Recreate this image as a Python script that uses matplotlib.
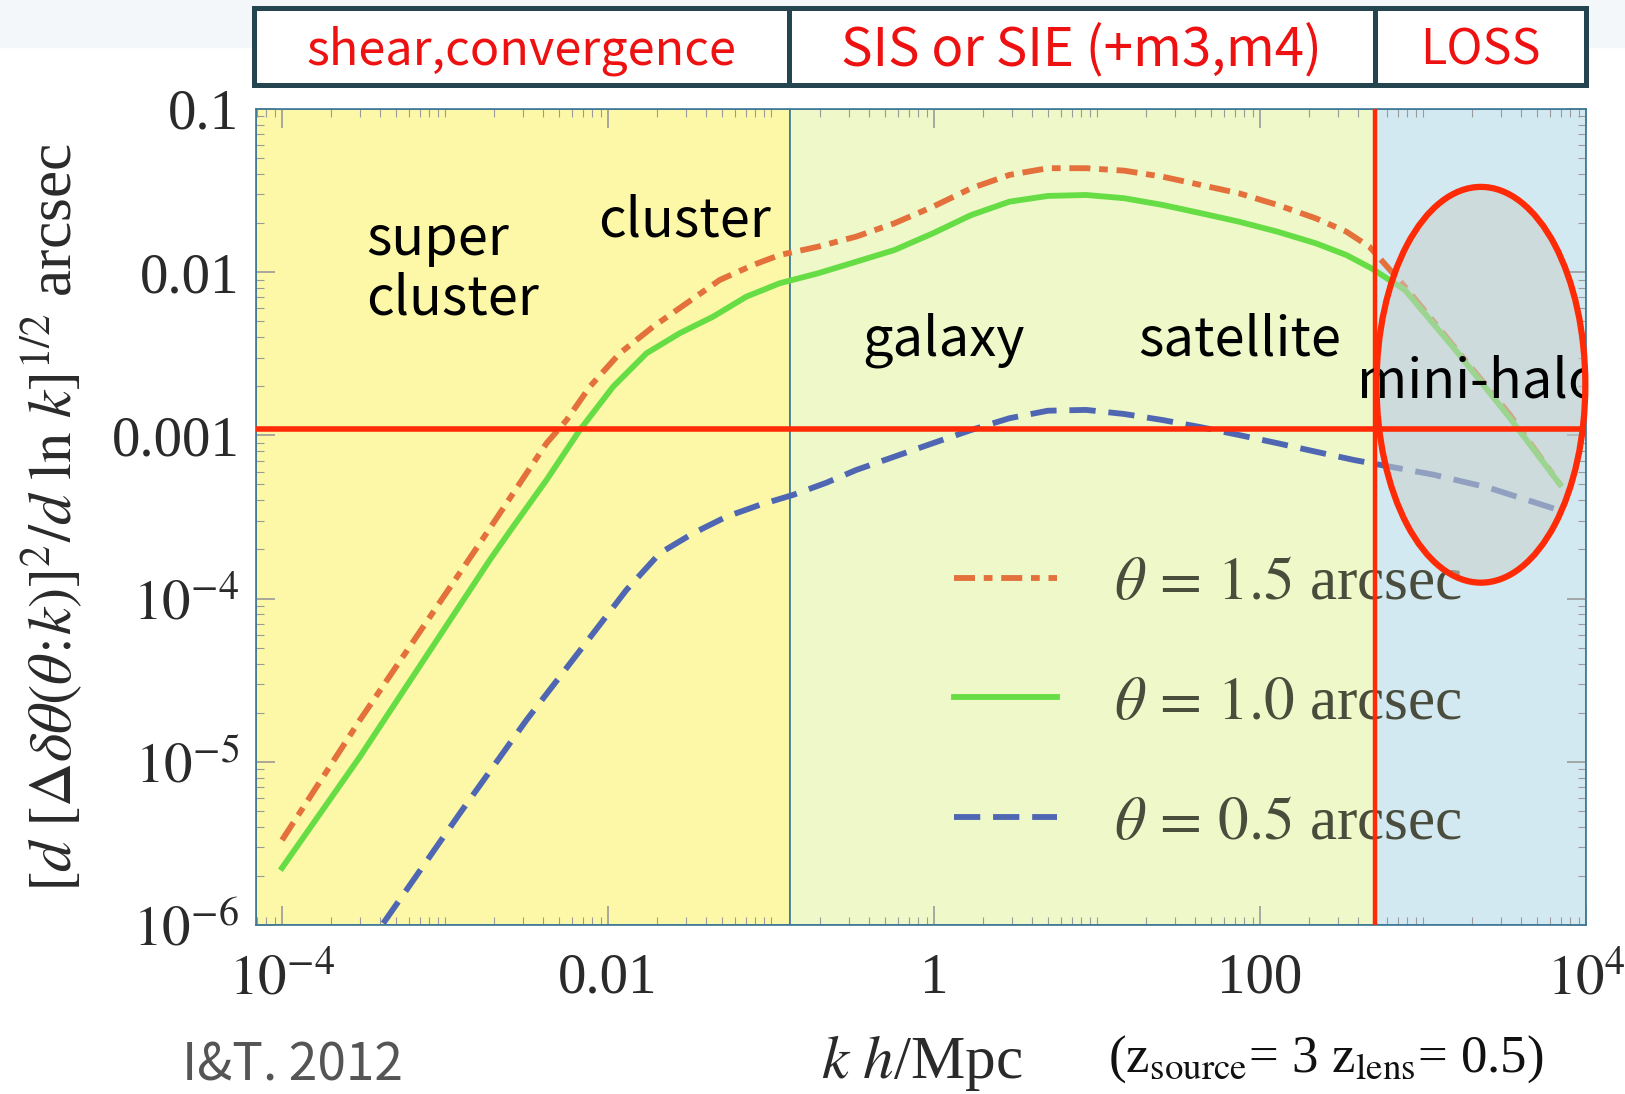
import numpy as np
import matplotlib
matplotlib.use("Agg")
import matplotlib.pyplot as plt
from matplotlib.patches import Ellipse, Rectangle
from matplotlib.ticker import FixedLocator, FixedFormatter, LogLocator, NullFormatter

plt.rcParams["font.family"] = ["Liberation Serif", "DejaVu Serif"]
plt.rcParams["mathtext.fontset"] = "stix"

# log10 k [h/Mpc] and log10 of the deflection signal, one pair per source size
logk_15 = [-4.00, -3.522, -2.786, -2.582, -2.377, -2.254, -2.112, -1.928, -1.723, -1.519,
           -1.315, -1.110, -0.947, -0.712, -0.477, -0.242, -0.007, 0.228, 0.463, 0.698,
           0.933, 1.167, 1.402, 1.638, 1.872, 2.107, 2.342, 2.530, 2.671, 2.89, 3.21, 3.53, 3.84]
logv_15 = [-5.48, -4.744, -3.661, -3.355, -3.048, -2.906, -2.702, -2.497, -2.334, -2.191,
           -2.048, -1.956, -1.895, -1.844, -1.782, -1.700, -1.599, -1.486, -1.404, -1.363,
           -1.363, -1.378, -1.415, -1.466, -1.517, -1.588, -1.670, -1.752, -1.844, -2.09,
           -2.48, -2.87, -3.30]

logk_10 = [-4.00, -3.522, -2.725, -2.582, -2.377, -2.173, -1.969, -1.764, -1.560, -1.356,
           -1.151, -0.947, -0.712, -0.477, -0.242, -0.007, 0.228, 0.463, 0.698, 0.933,
           1.167, 1.402, 1.638, 1.872, 2.107, 2.342, 2.530, 2.683, 2.89, 3.21, 3.53, 3.84]
logv_10 = [-5.65, -4.969, -3.763, -3.559, -3.273, -2.967, -2.702, -2.497, -2.374, -2.273,
           -2.150, -2.068, -2.007, -1.936, -1.864, -1.762, -1.650, -1.568, -1.533, -1.527,
           -1.547, -1.588, -1.639, -1.691, -1.752, -1.823, -1.895, -1.976, -2.11, -2.49,
           -2.89, -3.30]

logk_05 = [-3.379, -2.909, -2.500, -2.091, -1.887, -1.682, -1.478, -1.273, -1.069, -0.865,
           -0.660, -0.477, -0.242, -0.007, 0.228, 0.463, 0.698, 0.933, 1.167, 1.402, 1.638,
           1.872, 2.107, 2.342, 2.577, 3.06, 3.40, 3.84]
logv_05 = [-5.990, -5.316, -4.744, -4.213, -3.947, -3.722, -3.600, -3.498, -3.426, -3.365,
           -3.290, -3.212, -3.130, -3.048, -2.967, -2.895, -2.849, -2.844, -2.869, -2.906,
           -2.950, -2.998, -3.048, -3.100, -3.151, -3.24, -3.32, -3.46]

labels = [r"$\theta\,=\,1.5$ arcsec", r"$\theta\,=\,1.0$ arcsec", r"$\theta\,=\,0.5$ arcsec"]

# k ranges of the three lens-model regimes
k_edges = [10**-4.16, 0.131, 507, 1e4]
region_colors = ["#fcf8a8", "#eef8c8", "#d3e9f1"]
header_names = ["shear,convergence", "SIS or SIE (+m3,m4)", "LOSS"]
header_sizes = [35, 38, 35]

# scale names written on the plot: (text, log10 k, log10 value of the last baseline)
scale_names = [("super\ncluster", -3.485, -2.257),
               ("cluster", -2.06, -1.78),
               ("galaxy", -0.44, -2.51),
               ("satellite", 1.25, -2.51),
               ("mini-halo", 2.595, -2.765)]

k_cut = 507
v_cut = 1.1e-3

xticks = [1e-4, 1e-2, 1, 1e2, 1e4]
xticklabels = [r"$10^{-4}$", "0.01", "1", "100", r"$10^4$"]
yticks = [1e-6, 1e-5, 1e-4, 1e-3, 1e-2, 1e-1]
yticklabels = [r"$10^{-6}$", r"$10^{-5}$", r"$10^{-4}$", "0.001", "0.01", "0.1"]

fig = plt.figure(figsize=(16.25, 10.94), dpi=100)
fig.patches.append(Rectangle((0, 0.957), 1, 0.043, transform=fig.transFigure,
                             color="#f4f7f9", zorder=-1))

ax = fig.add_axes([0.1575, 0.1545, 0.8185, 0.7459])
ax.set_xscale("log")
ax.set_yscale("log")
ax.set_xlim(k_edges[0], k_edges[-1])
ax.set_ylim(1e-6, 0.1)

for i in range(3):
    ax.axvspan(k_edges[i], k_edges[i + 1], facecolor=region_colors[i],
               edgecolor="#3b7796", lw=1.2, zorder=0)

ax.plot(10**np.array(logk_15), 10**np.array(logv_15), color="#e4703c", lw=4.2,
        ls=(0, (3.6, 1.5, 1.5, 1.5)), label=labels[0], zorder=3)
ax.plot(10**np.array(logk_10), 10**np.array(logv_10), color="#66dd44", lw=4.2,
        label=labels[1], zorder=3)
ax.plot(10**np.array(logk_05), 10**np.array(logv_05), color="#4f67b3", lw=4.2,
        ls=(0, (4.5, 2.2)), label=labels[2], zorder=3)

leg = ax.legend(loc="upper left", bbox_to_anchor=(0.5245, 0.452), frameon=False,
                fontsize=44, handlelength=1.7, handletextpad=0.93, labelspacing=1.05,
                borderpad=0, borderaxespad=0)
leg.set_zorder(2.8)
for t in leg.get_texts():
    t.set_color("#4a4c3c")

ax.axhline(v_cut, color="#ff2a06", lw=4, zorder=4)
ax.axvline(k_cut, color="#ff2a06", lw=3.2, zorder=4)

# mini-halo regime marked with an ellipse
ax.add_patch(Ellipse((0.921, 0.662), 0.157, 0.485, transform=ax.transAxes,
                     facecolor="#c9d0cd", edgecolor="none", alpha=0.55, zorder=3.5))
ax.add_patch(Ellipse((0.921, 0.662), 0.157, 0.485, transform=ax.transAxes,
                     facecolor="none", edgecolor="#ff2a06", lw=4.5, zorder=5,
                     clip_on=False))

for name, lk, lv in scale_names:
    ax.text(10**lk, 10**lv, name, fontsize=39, family="Noto Sans CJK JP",
            color="black", ha="left", va="baseline", linespacing=1.1, zorder=4.5,
            clip_on=True)

ax.xaxis.set_major_locator(FixedLocator(xticks))
ax.xaxis.set_major_formatter(FixedFormatter(xticklabels))
ax.xaxis.set_minor_locator(LogLocator(base=10, subs=np.arange(1, 10), numticks=30))
ax.xaxis.set_minor_formatter(NullFormatter())
ax.yaxis.set_major_locator(FixedLocator(yticks))
ax.yaxis.set_major_formatter(FixedFormatter(yticklabels))
ax.yaxis.set_minor_locator(LogLocator(base=10, subs=np.arange(1, 10), numticks=30))
ax.yaxis.set_minor_formatter(NullFormatter())
ax.tick_params(which="both", direction="in", top=True, right=True, color="#9a9a9a",
               labelsize=41, labelcolor="#2a2a2a")
ax.tick_params(which="major", length=14, width=1.2)
ax.tick_params(which="minor", length=6, width=0.8)
ax.tick_params(axis="x", pad=20)
ax.tick_params(axis="y", pad=12)
for s in ax.spines.values():
    s.set_color("#3b7796")
    s.set_linewidth(1.2)

fig.text(0.032, 0.5265, r"$[d\ [\Delta\delta\theta(\theta\!:\!k)]^2/d\ \ln\,k]^{1/2}$ arcsec",
         rotation=90, ha="center", va="center", fontsize=44, color="#2a2a2a")
fig.text(0.5675, 0.015, r"$k\ h$/Mpc", ha="center", va="baseline", fontsize=44,
         color="#2a2a2a")
fig.text(0.816, 0.020, r"(z$_{\rm source}$= 3 z$_{\rm lens}$= 0.5)", ha="center",
         va="baseline", fontsize=38, color="#111111")
fig.text(0.112, 0.012, "I&T. 2012", ha="left", va="baseline", fontsize=37,
         family="Noto Sans CJK JP", color="#555555")

# header row naming the lens model used in each regime
axh = fig.add_axes([0.1563, 0.9223, 0.8197, 0.0704])
axh.set_xscale("log")
axh.set_xlim(k_edges[0], k_edges[-1])
axh.set_ylim(0, 1)
axh.set_xticks([])
axh.set_yticks([])
axh.minorticks_off()
for s in axh.spines.values():
    s.set_color("#24444f")
    s.set_linewidth(3.6)
for e in k_edges[1:-1]:
    axh.axvline(e, color="#24444f", lw=3.6)
for i, name in enumerate(header_names):
    xc = np.sqrt(k_edges[i] * k_edges[i + 1])
    axh.text(xc, 0.45, name, ha="center", va="center", fontsize=header_sizes[i],
             family="Noto Sans CJK JP", color="#ee1111")

fig.savefig("out.png", dpi=100)
